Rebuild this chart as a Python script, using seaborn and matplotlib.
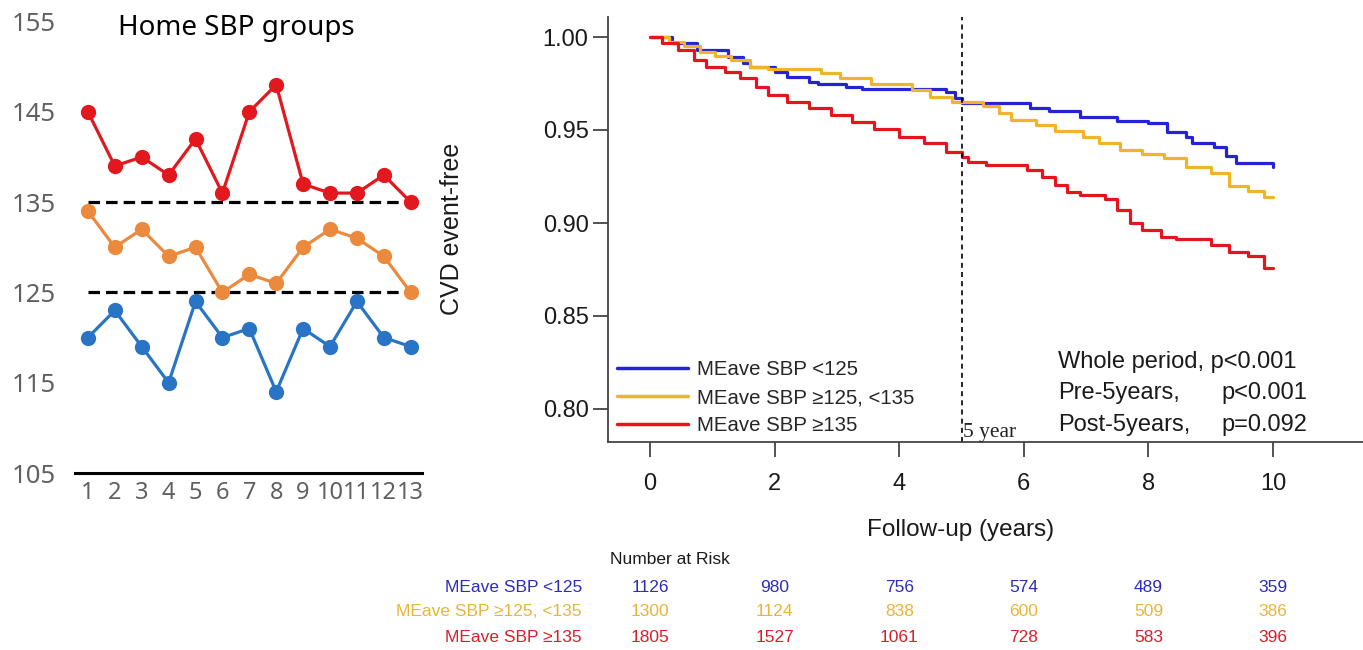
import numpy as np
import pandas as pd
import matplotlib
matplotlib.use("Agg")
import matplotlib.pyplot as plt
import seaborn as sns
from matplotlib.ticker import FormatStrFormatter
import matplotlib.transforms as mtransforms

# ---------------- data ----------------
visits = list(range(1, 14))
home_high = [145, 139, 140, 138, 142, 136, 145, 148, 137, 136, 136, 138, 135]
home_mid = [134, 130, 132, 129, 130, 125, 127, 126, 130, 132, 131, 129, 125]
home_low = [120, 123, 119, 115, 124, 120, 121, 114, 121, 119, 124, 120, 119]
thresholds = [135, 125]

km_low_t = [0, 0.35, 0.75, 1.25, 1.5, 1.6, 2.0, 2.2, 2.55, 2.7, 3.15, 3.4, 4.75, 4.9, 5.0,
            6.1, 6.4, 6.9, 7.5, 8.0, 8.3, 8.6, 8.7, 9.05, 9.25, 9.4, 10.0]
km_low_s = [1.0, 0.997, 0.993, 0.9894, 0.986, 0.984, 0.9813, 0.9787, 0.976, 0.975, 0.973, 0.972,
            0.9706, 0.967, 0.9643, 0.9617, 0.9604, 0.9572, 0.955, 0.9536, 0.949, 0.946, 0.9432,
            0.941, 0.936, 0.932, 0.930]
km_mid_t = [0, 0.3, 0.55, 0.8, 1.05, 1.3, 1.6, 1.9, 2.75, 3.05, 3.55, 4.2, 4.5, 4.85, 5.35, 5.6,
            5.8, 6.2, 6.5, 6.95, 7.2, 7.55, 7.9, 8.25, 8.6, 9.0, 9.3, 9.6, 9.85, 10.0]
km_mid_s = [1.0, 0.9975, 0.995, 0.992, 0.990, 0.9876, 0.984, 0.9826, 0.9805, 0.978, 0.975, 0.9715,
            0.968, 0.9652, 0.9629, 0.959, 0.9554, 0.9527, 0.9496, 0.9464, 0.9428, 0.9392, 0.937,
            0.9348, 0.930, 0.9267, 0.920, 0.917, 0.914, 0.914]
km_high_t = [0, 0.2, 0.45, 0.7, 0.9, 1.2, 1.45, 1.7, 1.9, 2.2, 2.55, 2.9, 3.25, 3.6, 4.0, 4.4,
             4.75, 5.0, 5.1, 5.4, 6.05, 6.3, 6.5, 6.7, 6.9, 7.3, 7.5, 7.7, 7.9, 8.2, 8.45, 9.0,
             9.3, 9.6, 9.85, 10.0]
km_high_s = [1.0, 0.9966, 0.993, 0.9876, 0.984, 0.9813, 0.978, 0.9733, 0.9688, 0.9652, 0.9617,
             0.958, 0.9545, 0.9504, 0.9464, 0.9428, 0.9383, 0.9357, 0.933, 0.9312, 0.9285,
             0.9249, 0.9204, 0.9168, 0.915, 0.9127, 0.907, 0.900, 0.8962, 0.8926, 0.8912,
             0.8882, 0.8845, 0.882, 0.876, 0.876]

group_labels = ["MEave SBP <125", "MEave SBP \u2265125, <135", "MEave SBP \u2265135"]
risk_times = [0, 2, 4, 6, 8, 10]
risk_low = [1126, 980, 756, 574, 489, 359]
risk_mid = [1300, 1124, 838, 600, 509, 386]
risk_high = [1805, 1527, 1061, 728, 583, 396]
pvalue_names = ["Whole period, p<0.001", "Pre-5years,", "Post-5years,"]
pvalue_vals = ["", "p<0.001", "p=0.092"]

# ---------------- style ----------------
sns.set_theme(style="white")
plt.rcParams["font.family"] = ["Liberation Sans", "DejaVu Sans"]

W, H = 1363, 650
fig = plt.figure(figsize=(W / 100, H / 100), dpi=100)


def fx(x):
    return x / W


def fy(y):
    return 1 - y / H


# ---------------- left panel ----------------
axL = fig.add_axes([fx(75), fy(473), fx(422) - fx(75), fy(8) - fy(473)])
left_df = pd.DataFrame({
    "visit": visits * 3,
    "sbp": home_high + home_mid + home_low,
    "group": ["high"] * 13 + ["mid"] * 13 + ["low"] * 13,
})
for th in thresholds:
    axL.plot([visits[0], visits[-1]], [th, th], color="black", lw=2.3,
             dashes=(3.6, 1.9), zorder=1)
sns.lineplot(data=left_df, x="visit", y="sbp", hue="group",
             palette={"high": "#e3181f", "mid": "#eb8a3d", "low": "#2a74c5"},
             marker="o", markersize=11, markeredgewidth=0, linewidth=2.3,
             legend=False, ax=axL, zorder=3)
axL.set_xlim(0.52, 13.42)
axL.set_ylim(105, 156.5)
axL.set_xticks(visits)
axL.set_yticks([105, 115, 125, 135, 145, 155])
axL.set_xlabel("")
axL.set_ylabel("")
for s in ["top", "right", "left"]:
    axL.spines[s].set_visible(False)
axL.spines["bottom"].set_color("black")
axL.spines["bottom"].set_linewidth(2.2)
axL.tick_params(axis="both", length=0, colors="#606060")
axL.tick_params(axis="y", pad=14, labelsize=18.5)
axL.tick_params(axis="x", pad=6, labelsize=17)
for lab in axL.get_xticklabels() + axL.get_yticklabels():
    lab.set_family(["Noto Sans", "DejaVu Sans"])
fig.text(fx(236), fy(28), "Home SBP groups", ha="center", va="center",
         fontsize=20, color="black", family=["Noto Sans", "DejaVu Sans"])

# ---------------- right panel (KM) ----------------
axR = fig.add_axes([fx(608), fy(442), fx(1363) - fx(608), fy(17) - fy(442)])
km_colors = ["#2424d4", "#f0b42a", "#e3161e"]
km_sets = [(km_low_t, km_low_s), (km_mid_t, km_mid_s), (km_high_t, km_high_s)]
for (t, s), c, lab in zip(km_sets, km_colors, group_labels):
    sns.lineplot(x=t, y=s, color=c, linewidth=2.3, drawstyle="steps-post",
                 estimator=None, ax=axR, label=lab)

px_per_year = 62.3
axR.set_xlim((608 - 650) / px_per_year, (1363 - 650) / px_per_year)
y_per_px = 0.05 / 93.0
axR.set_ylim(1 - (442 - 37) * y_per_px, 1 + (37 - 17) * y_per_px)
axR.set_xticks(risk_times)
axR.set_yticks([0.80, 0.85, 0.90, 0.95, 1.00])
axR.yaxis.set_major_formatter(FormatStrFormatter("%.2f"))
for s in ["top", "right"]:
    axR.spines[s].set_visible(False)
for s in ["left", "bottom"]:
    axR.spines[s].set_color("#444444")
    axR.spines[s].set_linewidth(1.3)
axR.tick_params(axis="both", direction="out", length=11, width=1.3,
                color="#444444", labelcolor="#1a1a1a", labelsize=17,
                bottom=True, left=True)
axR.tick_params(axis="y", pad=3)
axR.tick_params(axis="x", pad=11)
axR.axvline(5, color="black", lw=1.2, ls=(0, (3, 2.5)))
axR.text(5.03, 1 - (432 - 37) * y_per_px, "5 year", ha="left", va="center",
         fontsize=15.5, family=["Liberation Serif", "DejaVu Serif"], color="#222222")

axR.set_xlabel("Follow-up (years)", fontsize=17.5, color="#1a1a1a")
axR.xaxis.set_label_coords((961 - 608) / 755, (442 - 530) / 425)
axR.xaxis.label.set_va("center")
axR.set_ylabel("CVD event-free", fontsize=18, color="#1a1a1a")
axR.yaxis.set_label_coords((452 - 608) / 755, (442 - 229) / 425)
axR.yaxis.label.set_va("center")

leg = axR.legend(loc="upper left", bbox_to_anchor=((617 - 608) / 755, (442 - 360) / 425),
                 frameon=False, fontsize=14.7, handlelength=3.5, handletextpad=0.4,
                 labelspacing=0.45, borderpad=0, borderaxespad=0)
for line in leg.get_lines():
    line.set_linewidth(2.5)

p_rows_y = [362, 393, 425]
for name, val, yy in zip(pvalue_names, pvalue_vals, p_rows_y):
    fig.text(fx(1058), fy(yy), name, ha="left", va="center", fontsize=17, color="#1a1a1a")
    if val:
        fig.text(fx(1307), fy(yy), val, ha="right", va="center", fontsize=17, color="#1a1a1a")

# ---------------- number at risk table ----------------
blend = mtransforms.blended_transform_factory(axR.transData, fig.transFigure)
fig.text(fx(610), fy(559), "Number at Risk", ha="left", va="center", fontsize=12.5,
         color="#1a1a1a")
table_colors = ["#2d2db8", "#e8b53a", "#d8202a"]
row_y = [587, 612, 638]
for lab, counts, c, yy in zip(group_labels, [risk_low, risk_mid, risk_high], table_colors, row_y):
    fig.text(fx(582), fy(yy), lab, ha="right", va="center", fontsize=12.5, color=c)
    for t, n in zip(risk_times, counts):
        axR.text(t, fy(yy), str(n), transform=blend, ha="center", va="center",
                 fontsize=12.5, color=c, clip_on=False)

fig.savefig("out.png", dpi=100)
